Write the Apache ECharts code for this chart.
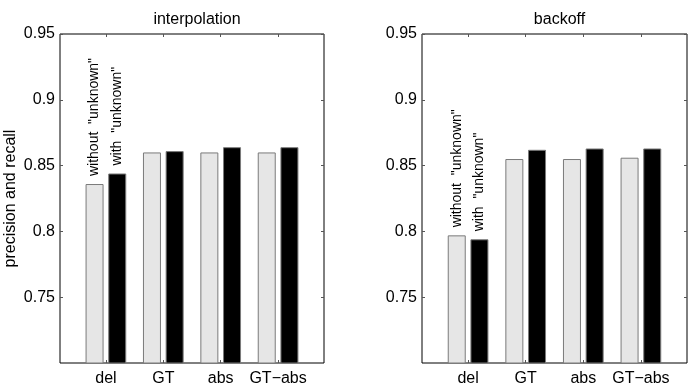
<!DOCTYPE html>
<html lang="en">
<head>
    <meta charset="UTF-8">
    <title>precision and recall</title>
    <script src="https://cdn.jsdelivr.net/npm/echarts@6/dist/echarts.min.js"></script>
    <style>
        html, body { margin: 0; padding: 0; background: #fff; }
        #chart { width: 692px; height: 390px; }
    </style>
</head>
<body>
<div id="chart"></div>
<script>
    // data
    var categories = ['del', 'GT', 'abs', 'GT\u2212abs'];
    var panelTitles = ['interpolation', 'backoff'];
    var interpWithout = [0.836, 0.860, 0.860, 0.860];
    var interpWith = [0.844, 0.861, 0.864, 0.864];
    var backoffWithout = [0.797, 0.855, 0.855, 0.856];
    var backoffWith = [0.794, 0.862, 0.863, 0.863];
    var yTicks = [0.75, 0.8, 0.85, 0.9, 0.95];
    var labelWithout = 'without  "unknown"';
    var labelWith = 'with  "unknown"';

    var font = 'Liberation Sans, Arial, Helvetica, sans-serif';
    var chart = echarts.init(document.getElementById('chart'), null, { renderer: 'canvas' });

    var grids = [
        { left: 60, top: 34, width: 264, height: 329 },
        { left: 422, top: 34, width: 265, height: 329 }
    ];
    var catPos = [1, 2, 3, 4];

    function pts(vals) {
        return vals.map(function (v, i) { return [catPos[i], v]; });
    }

    function barSeries(gi, vals, color, label) {
        var data = pts(vals).map(function (p, i) {
            var item = { value: p };
            // only the first group carries the rotated legend text
            if (i === 0) {
                item.label = {
                    show: true, position: 'top', distance: 8, rotate: 90,
                    align: 'left', verticalAlign: 'middle',
                    formatter: label, color: '#000', fontSize: 14, fontFamily: font
                };
            }
            return item;
        });
        return {
            type: 'bar', xAxisIndex: gi, yAxisIndex: gi,
            barWidth: 18, barGap: '26%',
            itemStyle: { color: color, borderColor: '#7a7a7a', borderWidth: 1 },
            data: data, silent: true, animation: false
        };
    }

    var xAxes = [], yAxes = [];
    [0, 1].forEach(function (gi) {
        // bottom axis with category labels
        xAxes.push({
            type: 'value', gridIndex: gi, position: 'bottom', min: 0.2, max: 4.8,
            axisLine: { show: false }, splitLine: { show: false },
            axisTick: { show: true, inside: true, length: 3, customValues: catPos, lineStyle: { color: '#555' } },
            axisLabel: {
                customValues: catPos, margin: 8, color: '#000', fontSize: 16, fontFamily: font,
                formatter: function (v) { return categories[Math.round(v) - 1]; }
            }
        });
        // top axis, ticks only
        xAxes.push({
            type: 'value', gridIndex: gi, position: 'top', min: 0.2, max: 4.8,
            axisLine: { show: false }, splitLine: { show: false },
            axisTick: { show: true, inside: true, length: 3, customValues: catPos, lineStyle: { color: '#555' } },
            axisLabel: { show: false }
        });
        yAxes.push({
            type: 'value', gridIndex: gi, position: 'left', min: 0.7, max: 0.95,
            name: gi === 0 ? 'precision and recall' : '', nameLocation: 'middle', nameGap: 41,
            nameTextStyle: { color: '#000', fontSize: 16, fontFamily: font },
            axisLine: { show: false }, splitLine: { show: false },
            axisTick: { show: true, inside: true, length: 3, customValues: yTicks, lineStyle: { color: '#555' } },
            axisLabel: {
                customValues: yTicks, margin: 5, color: '#000', fontSize: 16, fontFamily: font,
                formatter: function (v) { return String(+v.toFixed(2)); }
            }
        });
        yAxes.push({
            type: 'value', gridIndex: gi, position: 'right', min: 0.7, max: 0.95,
            axisLine: { show: false }, splitLine: { show: false },
            axisTick: { show: true, inside: true, length: 3, customValues: yTicks, lineStyle: { color: '#555' } },
            axisLabel: { show: false }
        });
    });

    // series use xAxis 0/2 and yAxis 0/2 (bottom/left of each panel)
    var s = [
        barSeries(0, interpWithout, '#e6e6e6', labelWithout),
        barSeries(0, interpWith, '#000000', labelWith),
        barSeries(2, backoffWithout, '#e6e6e6', labelWithout),
        barSeries(2, backoffWith, '#000000', labelWith)
    ];

    chart.setOption({
        backgroundColor: '#fff',
        animation: false,
        title: panelTitles.map(function (t, i) {
            return {
                text: t, left: grids[i].left + grids[i].width / 2, top: 7, textAlign: 'center',
                textStyle: { color: '#000', fontSize: 16, fontWeight: 'normal', fontFamily: font }
            };
        }),
        grid: grids.map(function (g) {
            return Object.assign({ show: true, borderColor: '#000', borderWidth: 1, backgroundColor: '#fff', containLabel: false }, g);
        }),
        xAxis: xAxes,
        yAxis: yAxes,
        series: s
    });
</script>
</body>
</html>
